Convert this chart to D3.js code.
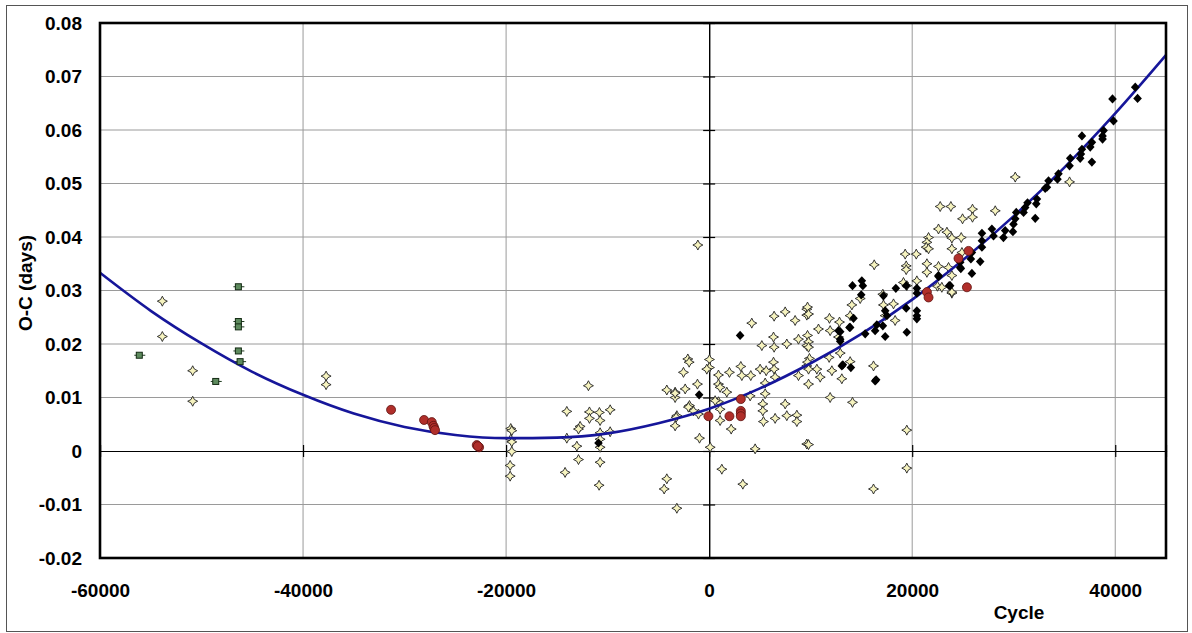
<!DOCTYPE html>
<html>
<head>
<meta charset="utf-8">
<script src="https://cdn.jsdelivr.net/npm/d3@7"></script>
<style>
  body { margin: 0; background: #fff; }
  text { font-family: "Liberation Sans", Arial, sans-serif; font-weight: bold; }
</style>
</head>
<body>
<div id="chart-container"></div>
<script>
// tick values and labels
const xTicks = [-60000, -40000, -20000, 0, 20000, 40000];
const xTickLabels = ["-60000", "-40000", "-20000", "0", "20000", "40000"];
const yTicks = [-0.02, -0.01, 0, 0.01, 0.02, 0.03, 0.04, 0.05, 0.06, 0.07, 0.08];
const yTickLabels = ["-0.02", "-0.01", "0", "0.01", "0.02", "0.03", "0.04", "0.05", "0.06", "0.07", "0.08"];

// [cycle, O-C] pairs
const greenSquares = [
  [-46370, 0.0307], [-46370, 0.0242], [-46370, 0.0232], [-46370, 0.0187], [-46200, 0.0167],
  [-56130, 0.0179], [-48600, 0.0130]
];

const paleDiamonds = [
  [-53860, 0.0280], [-53860, 0.0214], [-50870, 0.0150], [-50870, 0.0093], [-37730, 0.0140], [-37730, 0.0124],
  [-19540, 0.0042], [-19440, 0.0038], [-19540, 0.0022], [-19440, 0.0017], [-19440, -0.0001], [-19600, -0.0027], [-19600, -0.0047],
  [-11890, 0.0122], [-14020, 0.0074], [-11790, 0.0073], [-10810, 0.0072], [-9750, 0.0077], [-11790, 0.0061],
  [-10740, 0.0057], [-12710, 0.0046], [-12870, 0.0041], [-10740, 0.0034], [-9750, 0.0036], [-14020, 0.0024],
  [-10740, 0.0022], [-10740, 0.0007], [-13030, 0.0009], [-12870, -0.0016], [-10740, -0.0021], [-14190, -0.0040], [-10840, -0.0064],
  [-4170, 0.0114], [-3350, 0.0110], [-3350, 0.0100], [-3180, 0.0066], [-3350, 0.0047], [-4170, -0.0052], [-4430, -0.0071], [-3180, -0.0107],
  [-1110, 0.0385], [-2100, 0.0172], [-1970, 0.0166], [-2530, 0.0147], [-1150, 0.0125], [-2360, 0.0116], [-3350, 0.0108],
  [-1940, 0.0085], [-1550, 0.0075], [-1050, 0.0069], [-3250, 0.0063], [-950, 0.0024], [-2040, 0.0082],
  [30, 0.0171], [30, 0.0156], [-230, 0.0153], [920, 0.0142], [2000, 0.0147], [3120, 0.0158], [920, 0.0125], [1080, 0.0119],
  [1740, 0.0110], [920, 0.0092], [590, 0.0094], [1080, 0.0078], [1080, 0.0057], [2170, 0.0041], [100, 0.0007],
  [3220, 0.0141], [4100, 0.0141], [5020, 0.0153], [5620, 0.0150], [6340, 0.0166], [6400, 0.0153], [6500, 0.0138], [5520, 0.0127],
  [4200, 0.0239], [5190, 0.0197], [6340, 0.0213], [6400, 0.0194], [7650, 0.0200], [6400, 0.0252], [7490, 0.0260], [8470, 0.0244],
  [9620, 0.0265], [9620, 0.0254], [8800, 0.0209], [9620, 0.0197], [9620, 0.0159], [8800, 0.0141], [5520, 0.0107], [5290, 0.0088],
  [5290, 0.0075], [7490, 0.0088], [8640, 0.0067], [7650, 0.0066], [6500, 0.0061], [5350, 0.0055], [8640, 0.0055], [9620, 0.0013],
  [4530, 0.0004], [4040, 0.0103], [1250, -0.0034], [3320, -0.0062],
  [9790, 0.0012], [16190, -0.0071], [19470, -0.0032], [19470, 0.0039], [11920, 0.0100], [14120, 0.0091], [9790, 0.0125],
  [22760, 0.0457], [23810, 0.0457], [24960, 0.0434], [22590, 0.0415], [23420, 0.0409], [23910, 0.0398], [24830, 0.0399],
  [21610, 0.0399], [21450, 0.0390], [21380, 0.0381], [21610, 0.0378], [19310, 0.0368], [20400, 0.0368], [23910, 0.0378],
  [19410, 0.0346], [19410, 0.0339], [21450, 0.0350], [21450, 0.0334], [22590, 0.0345], [23580, 0.0343], [16260, 0.0348],
  [19140, 0.0315], [19470, 0.0309], [20460, 0.0318], [22490, 0.0308], [23910, 0.0295], [17110, 0.0293], [14880, 0.0285],
  [14060, 0.0273], [17170, 0.0273], [18160, 0.0275], [17340, 0.0253], [18320, 0.0244], [13890, 0.0253], [11850, 0.0248],
  [12840, 0.0241], [11920, 0.0225], [10770, 0.0228], [9690, 0.0269], [9790, 0.0256], [9690, 0.0216], [9790, 0.0204],
  [9790, 0.0194], [9880, 0.0173], [9690, 0.0166], [10610, 0.0153], [9790, 0.0153], [10940, 0.0138], [12090, 0.0150],
  [13070, 0.0135], [13890, 0.0167], [16190, 0.0159], [12740, 0.0213], [12910, 0.0183], [11820, 0.0175],
  [30150, 0.0512], [35500, 0.0503], [28180, 0.0449], [25940, 0.0452], [25940, 0.0437], [24900, 0.0371],
  [23910, 0.0328], [22920, 0.0306], [23910, 0.0297]
];

const blackDiamonds = [
  [-10900, 0.0015], [-985, 0.0105], [3050, 0.0216],
  [14120, 0.0309], [15040, 0.0318], [15140, 0.0309], [14980, 0.0292], [17170, 0.0290], [18390, 0.0304], [19410, 0.0309],
  [20460, 0.0304], [20460, 0.0295], [17340, 0.0262], [17510, 0.0253], [16520, 0.0236], [17110, 0.0234], [16350, 0.0225],
  [15370, 0.0219], [14220, 0.0248], [13820, 0.0231], [12910, 0.0223], [12910, 0.0209], [12910, 0.0205], [17340, 0.0214],
  [19410, 0.0267], [19470, 0.0222], [20460, 0.0262], [20460, 0.0247], [20460, 0.0253], [13070, 0.0159], [13960, 0.0156],
  [16450, 0.0133], [22590, 0.0328], [22590, 0.0326], [23640, 0.0309], [24730, 0.0343],
  [12740, 0.0225], [13890, 0.0231], [13170, 0.0161], [16350, 0.0131],
  [41970, 0.0680], [42200, 0.0659], [39730, 0.0658], [39830, 0.0617], [38850, 0.0599], [38750, 0.0589], [38750, 0.0583],
  [36720, 0.0589], [37700, 0.0577], [37540, 0.0568], [36720, 0.0564], [36620, 0.0555], [36550, 0.0547], [37700, 0.0540],
  [35570, 0.0547], [35500, 0.0533], [34410, 0.0518], [34310, 0.0508], [33430, 0.0505], [33270, 0.0493], [33100, 0.0491],
  [32290, 0.0471], [32220, 0.0462], [32120, 0.0435], [31360, 0.0464], [31130, 0.0455], [30970, 0.0446], [30250, 0.0446],
  [30150, 0.0434], [29980, 0.0424], [29920, 0.0410], [29160, 0.0412], [28990, 0.0399], [28010, 0.0402], [27850, 0.0415],
  [26870, 0.0407], [26870, 0.0393], [26870, 0.0381], [26700, 0.0354], [25880, 0.0371], [25780, 0.0359], [25880, 0.0332],
  [24730, 0.0353], [24790, 0.0341], [23740, 0.0309]
];

const redCircles = [
  [-31330, 0.0077], [-28080, 0.0058], [-27320, 0.0054], [-27160, 0.0047], [-27080, 0.0043], [-27000, 0.0039],
  [-22890, 0.0011], [-22660, 0.0007], [-22780, 0.0009],
  [-70, 0.0065], [2000, 0.0065], [3120, 0.0097], [3120, 0.0075], [3120, 0.0070], [3120, 0.0065],
  [21450, 0.0297], [21610, 0.0287], [24560, 0.0360], [25390, 0.0306], [25550, 0.0374]
];

// fitted curve, read at every 5000 cycles
const fitCycles = [-60000, -55000, -50000, -45000, -40000, -35000, -30000, -25000, -20000, -15000, -10000,
  -5000, 0, 5000, 10000, 15000, 20000, 25000, 30000, 35000, 40000, 45000];
const fitValues = [0.0333, 0.0262, 0.0201, 0.0148, 0.0105, 0.0070, 0.0045, 0.0030, 0.0024, 0.0025, 0.0033,
  0.0052, 0.0079, 0.0117, 0.0164, 0.0219, 0.0283, 0.0357, 0.0439, 0.0530, 0.0631, 0.0740];

const W = 1192, H = 633;
const plot = { left: 100, right: 1166, top: 23, bottom: 558 };

const svg = d3.select("#chart-container")
    .append("svg")
    .attr("width", W)
    .attr("height", H);

// outer frame
svg.append("rect")
    .attr("x", 6.5).attr("y", 5.5)
    .attr("width", 1181).attr("height", 626)
    .attr("fill", "none")
    .attr("stroke", "#555")
    .attr("stroke-width", 1);

const x = d3.scaleLinear()
    .domain([-60000, 45000])
    .range([plot.left, plot.right]);

const y = d3.scaleLinear()
    .domain([-0.02, 0.08])
    .range([plot.bottom, plot.top]);

// grid
svg.append("g")
    .selectAll("line")
    .data(xTicks.filter(d => d !== 0 && d !== -60000))
    .join("line")
    .attr("x1", d => x(d)).attr("x2", d => x(d))
    .attr("y1", plot.top).attr("y2", plot.bottom)
    .attr("stroke", "#9a9a9a").attr("stroke-width", 1);

svg.append("g")
    .selectAll("line")
    .data(yTicks.filter(d => d !== 0))
    .join("line")
    .attr("x1", plot.left).attr("x2", plot.right)
    .attr("y1", d => y(d)).attr("y2", d => y(d))
    .attr("stroke", "#9a9a9a").attr("stroke-width", 1);

// zero axes with crossing ticks
const zeroV = svg.append("g").attr("transform", `translate(${x(0)},0)`);
zeroV.append("g").call(d3.axisLeft(y).tickValues(yTicks).tickSize(6).tickFormat(""));
zeroV.append("g").call(d3.axisRight(y).tickValues(yTicks).tickSize(6).tickFormat(""));

const zeroH = svg.append("g").attr("transform", `translate(0,${y(0)})`);
zeroH.append("g").call(d3.axisTop(x).tickValues(xTicks).tickSize(6).tickFormat(""));
zeroH.append("g").call(d3.axisBottom(x).tickValues(xTicks).tickSize(6).tickFormat(""));

svg.selectAll(".domain").attr("stroke", "#000").attr("stroke-width", 1.2);
svg.selectAll(".tick line").attr("stroke", "#000").attr("stroke-width", 1.2);

// tick labels
svg.append("g")
    .attr("transform", `translate(${plot.left},0)`)
    .call(d3.axisLeft(y).tickValues(yTicks).tickSize(0).tickPadding(18)
        .tickFormat((d, i) => yTickLabels[i]))
    .call(g => g.select(".domain").remove())
    .call(g => g.selectAll("text").attr("font-size", 19).attr("fill", "#000")
        .style("font-family", "'Liberation Sans', Arial, sans-serif").style("font-weight", "bold"));

svg.append("g")
    .attr("transform", `translate(0,${plot.bottom})`)
    .call(d3.axisBottom(x).tickValues(xTicks).tickSize(0).tickPadding(26)
        .tickFormat((d, i) => xTickLabels[i]))
    .call(g => g.select(".domain").remove())
    .call(g => g.selectAll("text").attr("font-size", 19).attr("fill", "#000")
        .style("font-family", "'Liberation Sans', Arial, sans-serif").style("font-weight", "bold"));

// axis titles
svg.append("text")
    .attr("x", 1019).attr("y", 619)
    .attr("text-anchor", "middle")
    .attr("font-size", 19)
    .text("Cycle");

svg.append("text")
    .attr("transform", "translate(32,283) rotate(-90)")
    .attr("text-anchor", "middle")
    .attr("font-size", 19)
    .text("O-C (days)");

const marks = svg.append("g");

// pale diamonds (concave four-point shape)
const star = "M0,-5L1.7,-1.7L5,0L1.7,1.7L0,5L-1.7,1.7L-5,0L-1.7,-1.7Z";
marks.append("g")
    .selectAll("path")
    .data(paleDiamonds)
    .join("path")
    .attr("transform", d => `translate(${x(d[0])},${y(d[1])})`)
    .attr("d", star)
    .attr("fill", "#f6f3bf")
    .attr("stroke", "#222")
    .attr("stroke-width", 0.9);

// fitted curve
const line = d3.line()
    .x(d => x(d))
    .y((d, i) => y(fitValues[i]))
    .curve(d3.curveMonotoneX);

marks.append("path")
    .datum(fitCycles)
    .attr("fill", "none")
    .attr("stroke", "#16169a")
    .attr("stroke-width", 2.6)
    .attr("d", line);

// black diamonds
const diamond = "M0,-4.6L4.3,0L0,4.6L-4.3,0Z";
marks.append("g")
    .selectAll("path")
    .data(blackDiamonds)
    .join("path")
    .attr("transform", d => `translate(${x(d[0])},${y(d[1])})`)
    .attr("d", diamond)
    .attr("fill", "#000");

// red points
marks.append("g")
    .selectAll("circle")
    .data(redCircles)
    .join("circle")
    .attr("cx", d => x(d[0]))
    .attr("cy", d => y(d[1]))
    .attr("r", 4.5)
    .attr("fill", "#b02e2a")
    .attr("stroke", "#5e1310")
    .attr("stroke-width", 0.8);

// green squares with short stub
const greens = marks.append("g")
    .selectAll("g")
    .data(greenSquares)
    .join("g")
    .attr("transform", d => `translate(${x(d[0])},${y(d[1])})`);
greens.append("line")
    .attr("x1", -5).attr("x2", 6)
    .attr("stroke", "#1d3b1d").attr("stroke-width", 1);
greens.append("rect")
    .attr("x", -3).attr("y", -3)
    .attr("width", 6).attr("height", 6)
    .attr("fill", "#5d8a5d")
    .attr("stroke", "#142a14")
    .attr("stroke-width", 1);

// plot border
svg.append("rect")
    .attr("x", plot.left).attr("y", plot.top)
    .attr("width", plot.right - plot.left)
    .attr("height", plot.bottom - plot.top)
    .attr("fill", "none")
    .attr("stroke", "#000")
    .attr("stroke-width", 2.6);
</script>
</body>
</html>
